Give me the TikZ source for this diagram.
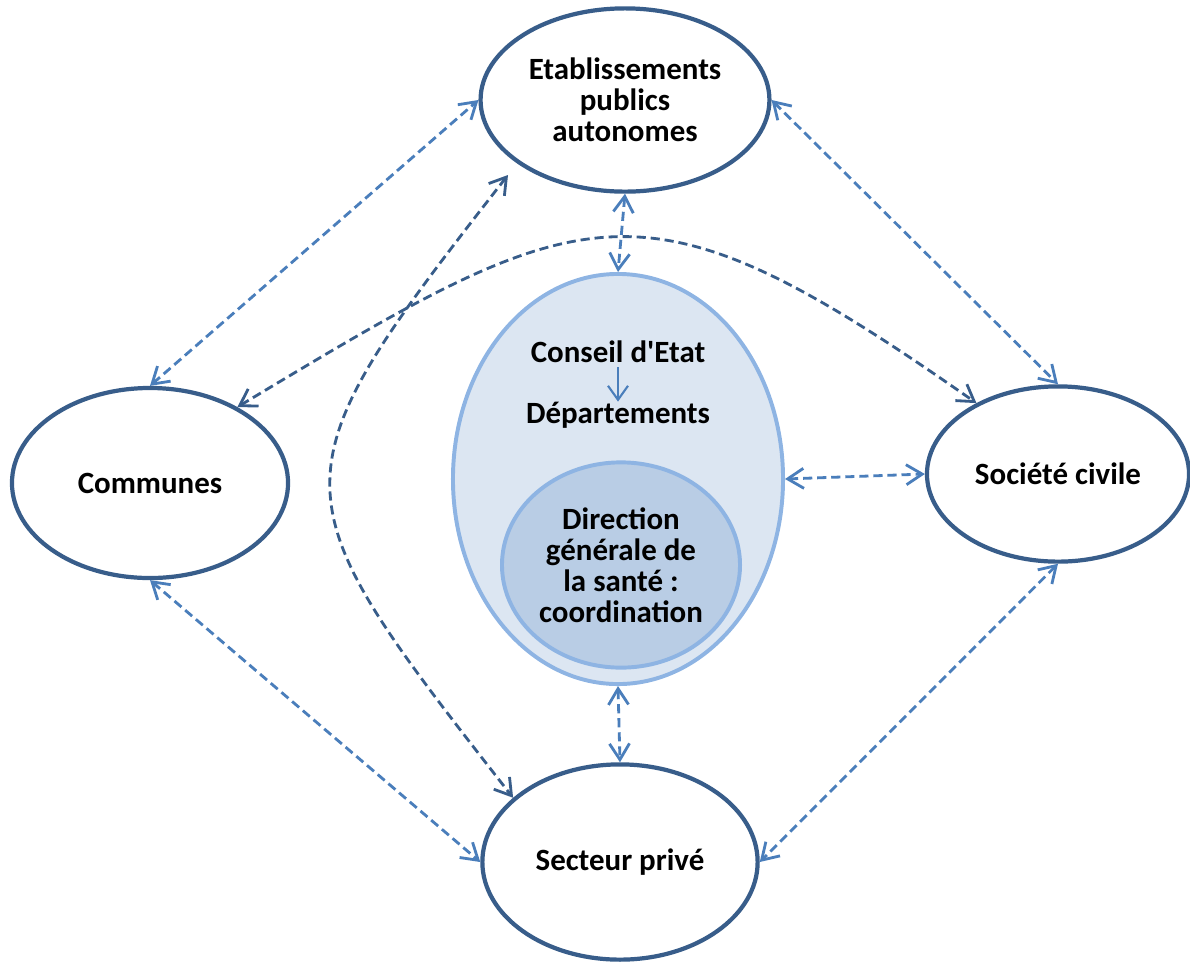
\documentclass[tikz,border=0pt]{standalone}
\usepackage{fontspec}
\setmainfont{Carlito}[Ligatures=TeXOff]
\usepackage{tikz}
\usetikzlibrary{positioning}
\usetikzlibrary{shapes.geometric}
\usetikzlibrary{arrows.meta}

\definecolor{frameblue}{HTML}{385D8A}
\definecolor{linkblue}{HTML}{4A7EBB}
\definecolor{paleblue}{HTML}{DCE6F2}
\definecolor{midblue}{HTML}{B9CDE5}
\definecolor{rimblue}{HTML}{8EB4E3}

\tikzset{
  partner/.style={ellipse, draw=frameblue, fill=white, line width=3pt,
    inner sep=0, align=center, font=\fontsize{22}{22}\selectfont\bfseries},
  caption/.style={inner sep=0, align=center, font=\fontsize{22}{22}\selectfont\bfseries},
  barb/.tip={Straight Barb[length=4mm,width=5mm]},
  duplex/.style={barb-barb, linkblue, line width=2pt, dash pattern=on 6.5pt off 3.5pt},
  farduplex/.style={duplex, frameblue}
}

\begin{document}
\begin{tikzpicture}[x=0.025cm, y=0.025cm]
  \useasboundingbox (0,0) rectangle (1190,-963);

  % partners round the state
  \node[partner, minimum width=7.22cm, minimum height=4.58cm] (etab) at (625,-100) {Etablissements\\publics\\autonomes};
  \node[partner, minimum width=6.9cm, minimum height=4.75cm] (com) at (150,-483) {Communes};
  \node[partner, minimum width=6.55cm, minimum height=4.38cm] (soc) at (1058,-474) {Soci\'et\'e civile};
  \node[partner, minimum width=6.88cm, minimum height=4.88cm] (sect) at (620,-862) {Secteur priv\'e};

  % state in the middle
  \node[ellipse, draw=rimblue, fill=paleblue, line width=2.8pt, minimum width=8.25cm, minimum height=10.25cm] (state) at (618,-479) {};
  \node[partner, draw=rimblue, fill=midblue, line width=2.8pt, minimum width=5.95cm, minimum height=5.13cm] (dgs) at (621,-565) {Direction\\g\'en\'erale de\\la sant\'e :\\coordination};
  \node[caption] (conseil) at (618,-352) {Conseil d'Etat};
  \node[caption] (dept) at (618,-415) {D\'epartements};
  \draw[-{Straight Barb[length=3.5mm,width=5mm]}, linkblue, line width=1.5pt, shorten <=3pt] (conseil) -- (dept);

  % straight links
  \draw[duplex] (com.north) -- (etab.west);
  \draw[duplex] (etab.east) -- (soc.north);
  \draw[duplex] (com.south) -- (sect.west);
  \draw[duplex] (soc.south) -- (sect.east);
  \draw[duplex] (etab.south) -- (state.north);
  \draw[duplex] (state.south) -- (sect.north);
  \draw[duplex] (state.east) -- (soc.west);

  % curved links
  \coordinate (etabfoot) at (508,-175);
  \draw[farduplex] (com.41) to[out=31, in=145, looseness=1.42] (soc.139);
  \draw[farduplex] (etabfoot) to[out=232, in=128, looseness=1.6] (sect.149);
\end{tikzpicture}
\end{document}
